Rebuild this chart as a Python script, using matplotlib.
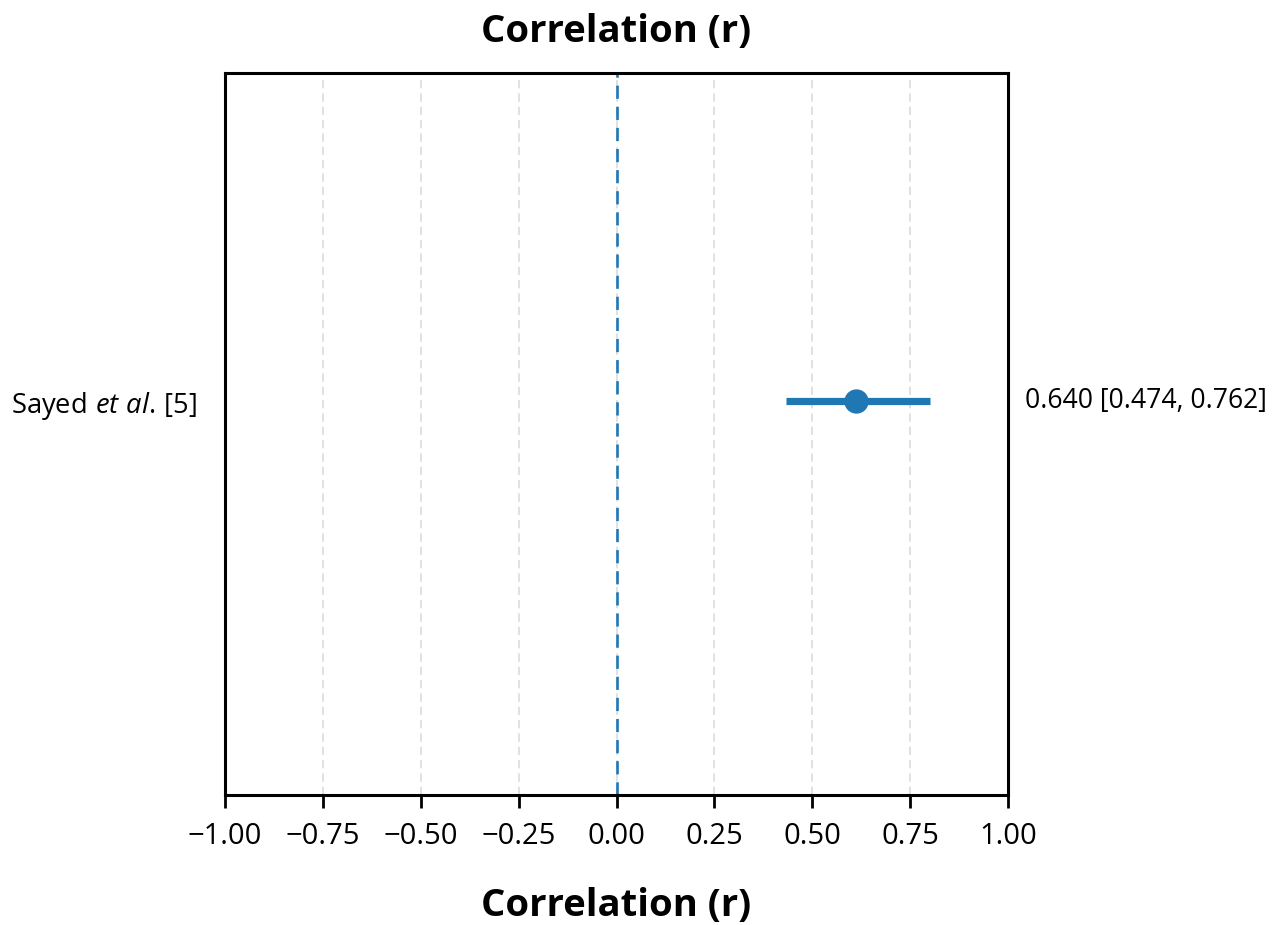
import matplotlib
matplotlib.use("Agg")
import matplotlib.pyplot as plt

# Data (drawn positions; label text as printed)
studies = [r"$\mathrm{Sayed}\ \mathit{et\ al.}\!\ \mathrm{[5]}$"]
r_points = [0.613]
ci_low = [0.434]
ci_high = [0.800]
labels_right = ["0.640 [0.474, 0.762]"]
xticks = [-1.00, -0.75, -0.50, -0.25, 0.00, 0.25, 0.50, 0.75, 1.00]

plt.rcParams['font.family'] = ['Open Sans', 'DejaVu Sans']
plt.rcParams['mathtext.fontset'] = 'custom'
plt.rcParams['mathtext.it'] = 'Open Sans:italic'
plt.rcParams['mathtext.rm'] = 'Open Sans'

blue = '#1f77b4'
fig = plt.figure(figsize=(12.79, 9.25), dpi=100)
ax = fig.add_axes([225/1279, 1-795/925, (1008-225)/1279, (795-73)/925])

ys = [0.0]
for y, r, lo, hi, lab in zip(ys, r_points, ci_low, ci_high, labels_right):
    ax.plot([lo, hi], [y, y], color=blue, lw=5.2, solid_capstyle='butt', zorder=3)
    ax.plot([r], [y], 'o', color=blue, markersize=16.5, zorder=4)
    ax.text(1.0 + 0.022, y, lab, transform=ax.get_yaxis_transform(), ha='left', va='center', fontsize=19.1)

ax.axvline(0, color=blue, ls=(0, (5, 3)), lw=1.9, zorder=2)
ax.set_xlim(-1, 1)
ax.set_ylim(-0.6, 0.5)
ax.set_xticks(xticks)
ax.set_xticklabels([f"{t:.2f}".replace('-', '\u2212') for t in xticks], fontsize=21)
ax.set_yticks(ys)
ax.set_yticklabels(studies, fontsize=19.7)
ax.tick_params(axis='y', length=0, pad=20)
ax.tick_params(axis='x', length=9, width=2.0, pad=10.5)
ax.grid(axis='x', color='#dcdcdc', ls=(0, (5, 3)), lw=1.2, zorder=0)
for s in ax.spines.values():
    s.set_linewidth(2.2)
ax.set_title("Correlation (r)", fontsize=27.5, fontweight='bold', pad=22)
ax.set_xlabel("Correlation (r)", fontsize=27.5, fontweight='bold', labelpad=26)

fig.savefig("out.png", dpi=100)
